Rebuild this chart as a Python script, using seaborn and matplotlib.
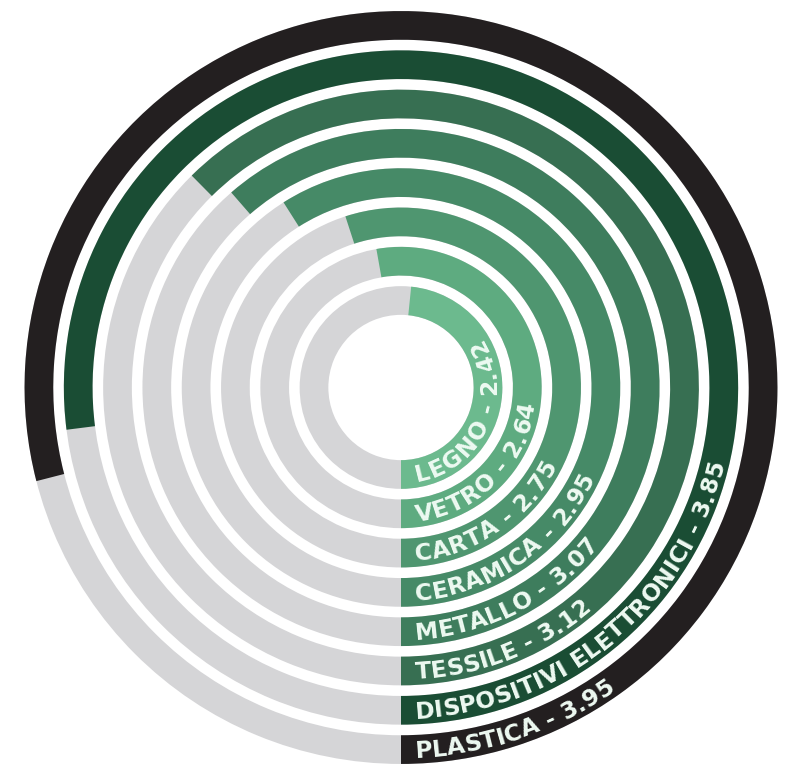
import numpy as np
import pandas as pd
import matplotlib
matplotlib.use("Agg")
import matplotlib.pyplot as plt
import seaborn as sns
from matplotlib import font_manager
from matplotlib.font_manager import FontProperties, findfont
from matplotlib.ft2font import LOAD_NO_HINTING

# ---- data ----
categories = ["LEGNO", "VETRO", "CARTA", "CERAMICA", "METALLO", "TESSILE",
              "DISPOSITIVI ELETTRONICI", "PLASTICA"]
values = [2.42, 2.64, 2.75, 2.95, 3.07, 3.12, 3.85, 3.95]
scale_max = 5.0
colors = ["#6cba8e", "#5eab80", "#4f9670", "#468a67", "#3e7d5d", "#376f52",
          "#1a4d34", "#231f20"]
track_color = "#d5d5d7"
text_color = "#eefaf2"

sns.set_theme(style="white")
plt.rcParams["font.family"] = ["DejaVu Sans"]

W, H = 786, 764
fig = plt.figure(figsize=(W / 100, H / 100), dpi=100)
fig.patch.set_facecolor("white")
cx, cy, R = 401, 387.5, 378
ax = fig.add_axes([(cx - R) / W, (H - cy - R) / H, 2 * R / W, 2 * R / H],
                  projection="polar")
ax.set_theta_zero_location("S")
ax.set_theta_direction(1)

df = pd.DataFrame({"cat": categories, "value": values})
df["theta"] = df["value"] / scale_max * 2 * np.pi
df["full"] = 2 * np.pi

pitch, r0, ring = 39.3, 87.0, 28.7
bw = ring / pitch

sns.barplot(data=df, x="full", y="cat", order=categories, color=track_color,
            saturation=1, width=bw, errorbar=None, orient="h", ax=ax,
            linewidth=0)
sns.barplot(data=df, x="theta", y="cat", hue="cat", order=categories,
            hue_order=categories, palette=dict(zip(categories, colors)),
            saturation=1, width=bw, errorbar=None, dodge=False, legend=False,
            orient="h", ax=ax, linewidth=0)

ax.set_xlim(0, 2 * np.pi)
ax.set_ylim(-r0 / pitch, (R - r0) / pitch)
ax.set_axis_off()

# ---- curved labels ----
fs = 16.8
prop = FontProperties(family="DejaVu Sans", weight="bold", size=fs)
font = font_manager.get_font(findfont(prop))
font.set_size(fs, 72)
px_per_pt = fig.dpi / 72.0
cap_px = 0.729 * fs * px_per_pt

for i, (cat, val) in enumerate(zip(categories, values)):
    label = f"{cat} - {val:.2f}"
    r_mid = r0 + pitch * i
    r_base = (r_mid + cap_px / 2 - r0) / pitch
    s = 14.0
    for ch in label:
        adv = font.load_char(ord(ch), flags=LOAD_NO_HINTING).linearHoriAdvance / 65536 * px_per_pt
        phi = (s + adv / 2) / r_mid
        if ch != " ":
            ax.text(phi, r_base, ch, rotation=np.degrees(phi), rotation_mode="anchor",
                    ha="center", va="baseline", fontproperties=prop, color=text_color)
        s += adv

fig.savefig("out.png", dpi=100, facecolor="white")
